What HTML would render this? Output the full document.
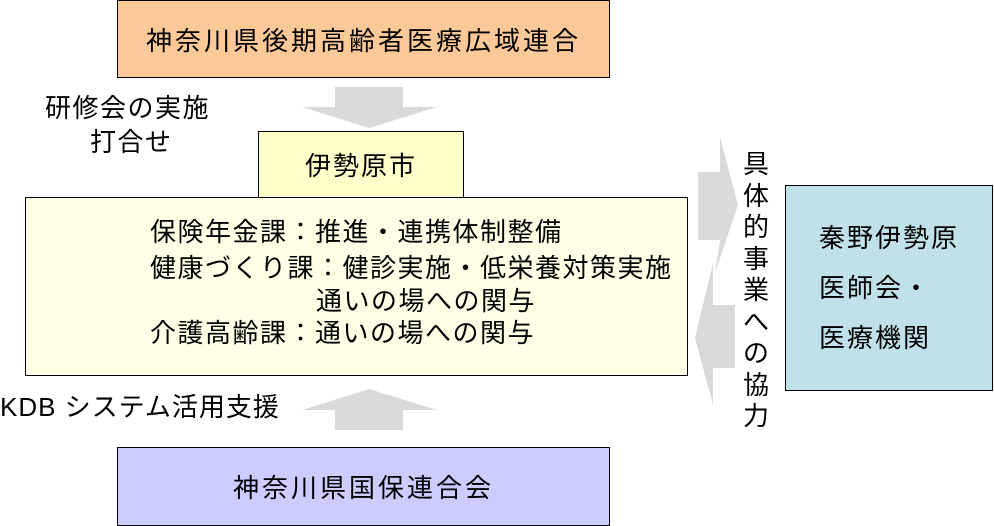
<!DOCTYPE html>
<html><head><meta charset="utf-8"><style>
body{margin:0;width:994px;height:526px;background:#fff;position:relative;overflow:hidden;font-family:"Liberation Sans","Noto Sans CJK JP",sans-serif;color:#000}
.b{position:absolute;box-sizing:border-box;border:1.5px solid #000;display:flex;align-items:center;justify-content:center;letter-spacing:2px}
.t{position:absolute;font-size:26px;white-space:nowrap;line-height:1;letter-spacing:1.5px}
</style></head><body>
<svg width="994" height="526" style="position:absolute;left:0;top:0">
<polygon points="335,87 403,87 403,107 437,107 369,128 302,107 335,107" fill="#d9d9d9"/>
<polygon points="335,430 403,430 403,410 437,410 369,389 302,410 335,410" fill="#d9d9d9"/>
<polygon points="698,172 720,172 720,137 738,205 715,273 720,240 698,240" fill="#d9d9d9"/>
<polygon points="735,305 713,305 713,263 695,338 713,405 713,368 735,368" fill="#d9d9d9"/>
</svg>
<div class="b" style="left:117px;top:0;width:493px;height:78px;background:#fbc997;font-size:26px;letter-spacing:3px">神奈川県後期高齢者医療広域連合</div>
<div class="b" style="left:258px;top:131px;width:206px;height:67px;background:#ffffc9;font-size:26px;z-index:2">伊勢原市</div>
<div class="b" style="left:25px;top:197px;width:663px;height:179px;background:#ffffe6"></div>
<div class="t" style="left:150px;top:219px">保険年金課：推進・連携体制整備</div>
<div class="t" style="left:150px;top:255px">健康づくり課：健診実施・低栄養対策実施</div>
<div class="t" style="left:316px;top:288px">通いの場への関与</div>
<div class="t" style="left:150px;top:320px">介護高齢課：通いの場への関与</div>
<div class="b" style="left:785px;top:185px;width:208px;height:206px;background:#c0e1ea;flex-direction:column;font-size:26px;line-height:50px">秦野伊勢原<br>医師会・<br>医療機関</div>
<div class="b" style="left:117px;top:447px;width:493px;height:79px;background:#ccccff;font-size:26px;letter-spacing:3px">神奈川県国保連合会</div>
<div class="t" style="left:45px;top:95px">研修会の実施</div>
<div class="t" style="left:90px;top:129px">打合せ</div>
<div class="t" style="left:0;top:394px;letter-spacing:1px">KDB システム活用支援</div>
<div class="t" style="left:742px;top:149px;width:28px;line-height:31.5px;white-space:normal;text-align:center;letter-spacing:0">具<br>体<br>的<br>事<br>業<br>へ<br>の<br>協<br>力</div>
</body></html>
